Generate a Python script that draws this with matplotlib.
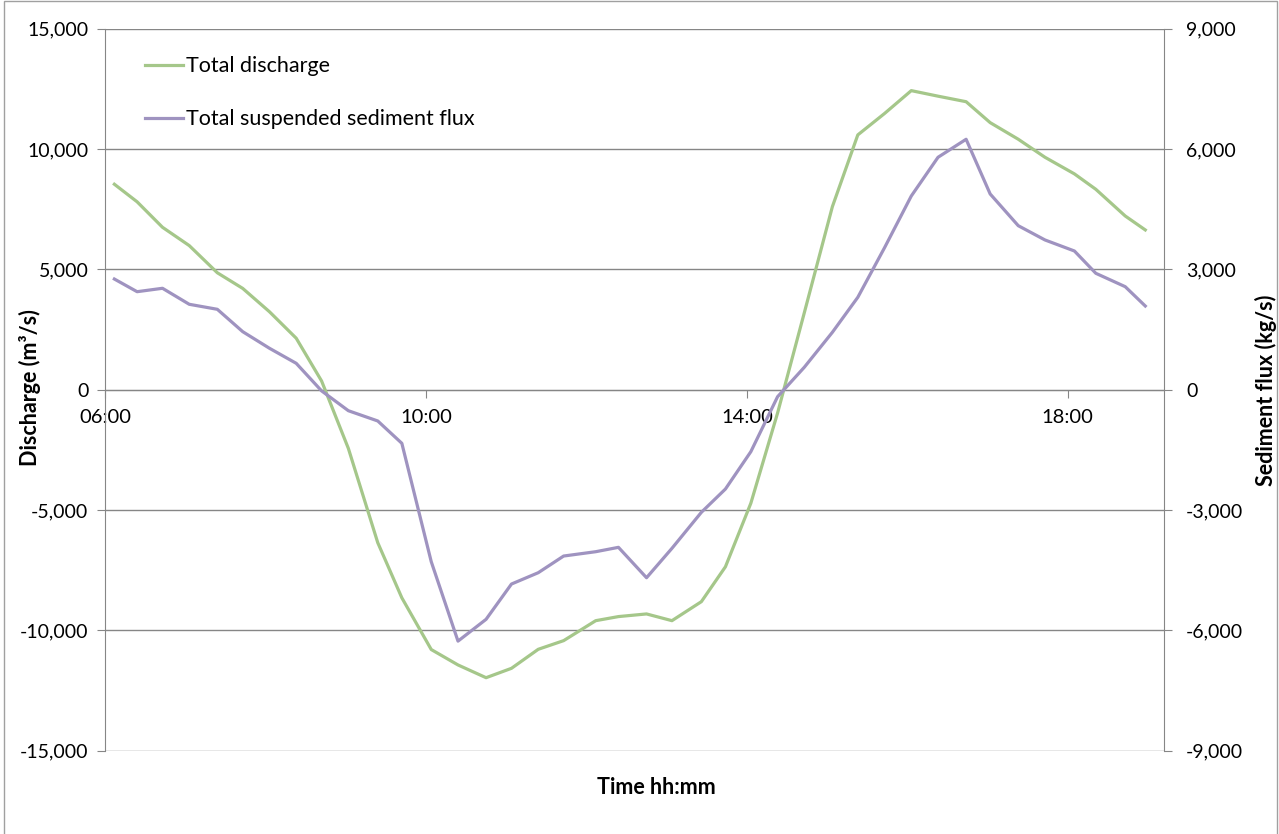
import matplotlib.pyplot as plt
from matplotlib.patches import Rectangle
from matplotlib.ticker import FuncFormatter, MultipleLocator

# --- data ---
times = ["06:07", "06:24", "06:43", "07:03", "07:24", "07:43", "08:03", "08:23",
         "08:42", "09:02", "09:24", "09:42", "10:04", "10:24", "10:45", "11:04",
         "11:24", "11:43", "12:07", "12:24", "12:45", "13:04", "13:26", "13:44",
         "14:03", "14:23", "14:43", "15:04", "15:23", "15:43", "16:03", "16:23",
         "16:44", "17:02", "17:23", "17:43", "18:05", "18:21", "18:43", "18:58"]

discharge = [8540, 7810, 6750, 5990, 4860, 4210, 3240, 2140,
             360, -2440, -6360, -8650, -10800, -11440, -11970, -11580,
             -10790, -10430, -9600, -9430, -9320, -9600, -8810, -7360,
             -4720, -970, 3200, 7610, 10590, 11480, 12430, 12200,
             11970, 11100, 10410, 9660, 8970, 8330, 7220, 6640]

sediment = [2760, 2444, 2529, 2130, 2005, 1447, 1033, 658,
            -30, -524, -780, -1337, -4290, -6270, -5726, -4846,
            -4564, -4148, -4040, -3931, -4689, -3956, -3058, -2477,
            -1546, -175, 560, 1432, 2304, 3541, 4830, 5796,
            6245, 4881, 4090, 3734, 3459, 2903, 2569, 2087]

x_ticks = [6, 10, 14, 18]

hours = [int(t[:2]) + int(t[3:]) / 60 for t in times]

green = '#A5C78A'
purple = '#9F93C0'
gray = '#868686'

plt.rcParams['font.family'] = ['Lato', 'DejaVu Sans']

fig = plt.figure(figsize=(12.79, 8.34), dpi=100)
ax = fig.add_axes([105 / 1279, 1 - 750.6 / 834, (1164 - 105) / 1279, (750.6 - 28.8) / 834])
ax2 = ax.twinx()

l1, = ax.plot(hours, discharge, color=green, lw=2.3, label='Total discharge', zorder=3)
l2, = ax2.plot(hours, sediment, color=purple, lw=2.3, label='Total suspended sediment flux', zorder=3)

ax.set_xlim(6, 19.2)
ax.set_ylim(-15000, 15000)
ax2.set_ylim(-9000, 9000)
ax.yaxis.set_major_locator(MultipleLocator(5000))
ax2.yaxis.set_major_locator(MultipleLocator(3000))

thousands = FuncFormatter(lambda v, p: f'{int(v):,}')
ax.yaxis.set_major_formatter(thousands)
ax2.yaxis.set_major_formatter(thousands)

ax.set_xticks(x_ticks)
ax.set_xticklabels([f'{h:02d}:00' for h in x_ticks])

# horizontal gridlines like Excel
ax.grid(axis='y', color=gray, lw=1)
ax.set_axisbelow(True)

for a in (ax, ax2):
    for s in a.spines.values():
        s.set_color(gray)
    a.spines['top'].set_visible(False)
    a.spines['bottom'].set_visible(False)
ax2.spines['left'].set_visible(False)
ax.spines['right'].set_visible(False)

# x axis crosses at zero
ax.spines['bottom'].set_visible(True)
ax.spines['bottom'].set_position(('data', 0))
ax.spines['bottom'].set_color(gray)

ax.tick_params(axis='x', direction='out', length=6, color=gray, labelsize=14.5, pad=8)
ax.tick_params(axis='y', direction='out', length=6, color=gray, labelsize=14, pad=6)
ax2.tick_params(axis='y', direction='out', length=6, color=gray, labelsize=14, pad=10)

# axis titles
fig.text(30 / 1279, 1 - 388 / 834, 'Discharge (m³/s)', fontsize=15.5, fontweight='bold',
         rotation=90, ha='center', va='center')
fig.text(1266 / 1279, 1 - 390 / 834, 'Sediment flux (kg/s)', fontsize=15.5, fontweight='bold',
         rotation=90, ha='center', va='center')
fig.text(656 / 1279, 1 - 788 / 834, 'Time hh:mm', fontsize=15.5, fontweight='bold',
         ha='center', va='center')

ax.legend(handles=[l1, l2], loc='upper left', bbox_to_anchor=(0.03, 0.974),
          frameon=False, fontsize=15.5, handlelength=1.75, handletextpad=0.15,
          labelspacing=1.53, borderaxespad=0)

# light chart border
fig.patches.append(Rectangle((4 / 1279, -0.01), 1273 / 1279, 1.0 - 1 / 834 + 0.01,
                             transform=fig.transFigure, fill=False,
                             edgecolor='#A0A0A0', lw=1))

fig.savefig('out.png', dpi=100)
